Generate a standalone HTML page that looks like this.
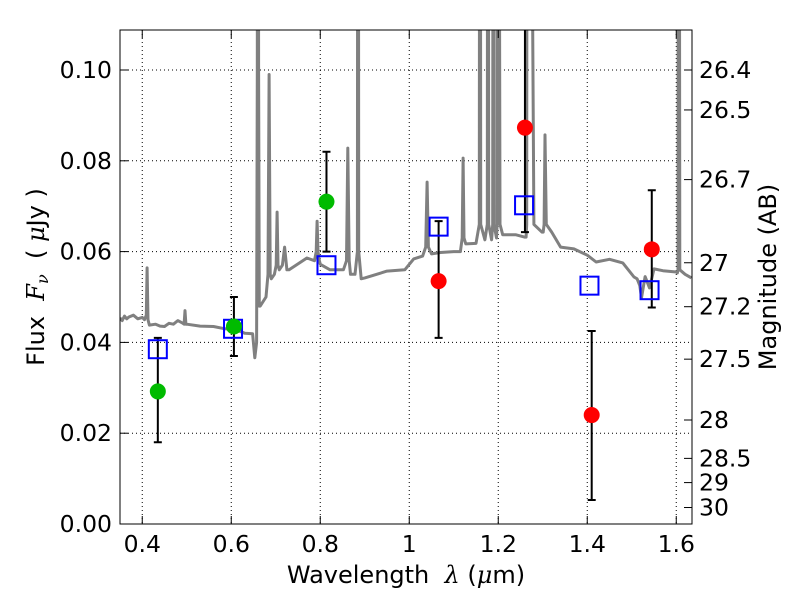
<!DOCTYPE html>
<html><head><meta charset="utf-8"><style>
body{margin:0;background:#fff}
svg text{font-family:"DejaVu Sans","Liberation Sans",sans-serif;fill:#000}
</style></head><body>
<svg id="chart" width="800" height="600" xmlns="http://www.w3.org/2000/svg">
<defs><clipPath id="clip"><rect x="120" y="30" width="572" height="494"/></clipPath></defs>
<g id="grid"></g>
<g id="spec" clip-path="url(#clip)"></g>
<g id="marks" clip-path="url(#clip)"></g>
<rect x="120" y="30" width="572" height="494" fill="none" stroke="#000" stroke-width="1"/>
<g id="axes"></g>
<text x="406" y="583" font-size="24" text-anchor="middle">Wavelength&#160;&#160;<tspan font-family="DejaVu Serif" font-style="italic">λ</tspan> (<tspan font-family="DejaVu Serif" font-style="italic">μ</tspan>m)</text>
<text transform="translate(44,277) rotate(-90)" font-size="24" text-anchor="middle">Flux&#160;&#160;<tspan font-family="DejaVu Serif" font-style="italic">F<tspan font-size="16" dy="4">ν</tspan></tspan><tspan dy="-4">&#160;&#160;( </tspan><tspan font-family="DejaVu Serif" font-style="italic">μ</tspan>Jy )</text>
<text transform="translate(776,277) rotate(-90)" font-size="24" text-anchor="middle">Magnitude (AB)</text>
</svg>
<script>
const xTicks=[0.4,0.6,0.8,1.0,1.2,1.4,1.6];
const xTickLabels=["0.4","0.6","0.8","1","1.2","1.4","1.6"];
const yTicks=[0,0.02,0.04,0.06,0.08,0.10];
const yTickLabels=["0.00","0.02","0.04","0.06","0.08","0.10"];
const magTicks=[26.4,26.5,26.7,27,27.2,27.5,28,28.5,29,30];
const specWave=[0.35,0.355,0.36,0.365,0.37,0.38,0.39,0.40,0.405,0.409,0.411,0.413,0.416,0.43,0.44,0.45,0.46,0.47,0.48,0.49,0.494,0.496,0.498,0.50,0.53,0.56,0.586,0.61,0.631,0.648,0.653,0.657,0.6585,0.660,0.6615,0.663,0.665,0.678,0.6825,0.685,0.6875,0.690,0.697,0.701,0.703,0.705,0.708,0.715,0.72,0.725,0.73,0.77,0.787,0.791,0.793,0.795,0.798,0.80,0.822,0.852,0.859,0.862,0.865,0.868,0.878,0.8835,0.885,0.8865,0.892,0.90,0.95,0.99,1.01,1.03,1.037,1.04,1.043,1.05,1.07,1.10,1.115,1.119,1.121,1.123,1.127,1.15,1.1575,1.159,1.1605,1.17,1.1755,1.177,1.1785,1.185,1.1875,1.189,1.1905,1.196,1.1975,1.199,1.204,1.21,1.24,1.259,1.2625,1.264,1.2655,1.28,1.298,1.301,1.303,1.305,1.308,1.32,1.34,1.37,1.40,1.42,1.45,1.48,1.505,1.512,1.518,1.522,1.53,1.54,1.55,1.57,1.60,1.6025,1.604,1.6055,1.608,1.62,1.634];
const specFlux=[0.0454,0.0448,0.0458,0.0452,0.0456,0.0460,0.0452,0.0455,0.0450,0.046,0.0564,0.045,0.0438,0.0440,0.0436,0.0435,0.0442,0.0440,0.0448,0.0443,0.044,0.047,0.044,0.0440,0.0436,0.0435,0.0430,0.0428,0.0420,0.0419,0.0366,0.040,0.10,0.30,0.10,0.048,0.048,0.050,0.055,0.099,0.055,0.054,0.055,0.057,0.0687,0.057,0.056,0.057,0.061,0.056,0.056,0.0586,0.058,0.060,0.0667,0.060,0.058,0.0572,0.056,0.056,0.058,0.0828,0.058,0.055,0.055,0.06,0.30,0.06,0.054,0.0542,0.0557,0.0560,0.0584,0.059,0.061,0.0753,0.061,0.0595,0.0598,0.0600,0.060,0.063,0.0806,0.063,0.0617,0.0618,0.066,0.30,0.066,0.0626,0.066,0.30,0.066,0.0626,0.066,0.30,0.066,0.063,0.066,0.30,0.066,0.0637,0.0637,0.0632,0.0632,0.066,0.30,0.066,0.0643,0.0643,0.066,0.0857,0.066,0.0643,0.061,0.0606,0.0592,0.0577,0.0583,0.0575,0.0544,0.0540,0.0525,0.0498,0.0545,0.0520,0.0562,0.0558,0.0555,0.0553,0.056,0.30,0.056,0.0550,0.0542,0.0542];
const boxWave=[0.435,0.604,0.814,1.066,1.258,1.405,1.54];
const boxFlux=[0.0385,0.0430,0.0570,0.0655,0.0702,0.0525,0.0515];
const greenWave=[0.435,0.606,0.814];
const greenFlux=[0.0292,0.0435,0.0710];
const greenLo=[0.0180,0.0370,0.0600];
const greenHi=[0.0410,0.0500,0.0820];
const redWave=[1.066,1.260,1.410,1.545];
const redFlux=[0.0535,0.0873,0.0240,0.0605];
const redLo=[0.0410,0.0643,0.0053,0.0477];
const redHi=[0.0667,0.15,0.0425,0.0735];

const X=w=>120+(w-0.35)*445;
const Y=f=>524-f*4540;
const NS="http://www.w3.org/2000/svg";
function mk(t,p,a){const e=document.createElementNS(NS,t);for(const k in a)e.setAttribute(k,a[k]);p.appendChild(e);return e;}
const grid=document.getElementById('grid'),axes=document.getElementById('axes'),spec=document.getElementById('spec'),marks=document.getElementById('marks');
xTicks.forEach((v,i)=>{
  const x=X(v);
  const g=mk('line',grid,{x1:x,x2:x,y1:30,y2:524,stroke:'#000','stroke-dasharray':'1,3','stroke-width':1});
  
  const t1=mk('line',axes,{x1:x,x2:x,y1:524,y2:516,stroke:'#000'});
  
  const t2=mk('line',axes,{x1:x,x2:x,y1:30,y2:38,stroke:'#000'});
  
  const l=mk('text',axes,{x:x,y:552,'font-size':23.5,'text-anchor':'middle'});l.textContent=xTickLabels[i];
  
});
yTicks.forEach((v,i)=>{
  const y=Y(v);
  if(v>0){const g=mk('line',grid,{x1:120,x2:692,y1:y,y2:y,stroke:'#000','stroke-dasharray':'1,3','stroke-width':1});
  }
  const t=mk('line',axes,{x1:120,x2:128,y1:y,y2:y,stroke:'#000'});
  
  const l=mk('text',axes,{x:112,y:y+8,'font-size':23.5,'text-anchor':'end'});l.textContent=yTickLabels[i];
  
});
magTicks.forEach(m=>{
  const y=Y(Math.pow(10,(23.9-m)/2.5));
  const t=mk('line',axes,{x1:684,x2:692,y1:y,y2:y,stroke:'#000'});
  
  const l=mk('text',axes,{x:699,y:y+8,'font-size':23.5});l.textContent=String(m);
  
});
const pts=specWave.map((w,i)=>X(w).toFixed(1)+','+Y(specFlux[i]).toFixed(1)).join(' ');
const pl=mk('polyline',spec,{points:pts,fill:'none',stroke:'#808080','stroke-width':3,'stroke-linejoin':'round'});

function errbar(w,lo,hi,name){
  const x=X(w);
  const e=mk('path',marks,{d:`M${x},${Y(lo)}V${Y(hi)}M${x-4},${Y(lo)}H${x+4}M${x-4},${Y(hi)}H${x+4}`,stroke:'#000','stroke-width':2,fill:'none'});
  
}
greenWave.forEach((w,i)=>errbar(w,greenLo[i],greenHi[i],'green-error-bar'));
redWave.forEach((w,i)=>errbar(w,redLo[i],redHi[i],'red-error-bar'));
boxWave.forEach((w,i)=>{
  const r=mk('rect',marks,{x:X(w)-9,y:Y(boxFlux[i])-9,width:18,height:18,fill:'none',stroke:'#0000ff','stroke-width':2});
  
});
greenWave.forEach((w,i)=>{
  const c=mk('circle',marks,{cx:X(w),cy:Y(greenFlux[i]),r:8,fill:'#00bb00'});
  
});
redWave.forEach((w,i)=>{
  const c=mk('circle',marks,{cx:X(w),cy:Y(redFlux[i]),r:8,fill:'#ff0000'});
  
});
</script>
</body></html>
